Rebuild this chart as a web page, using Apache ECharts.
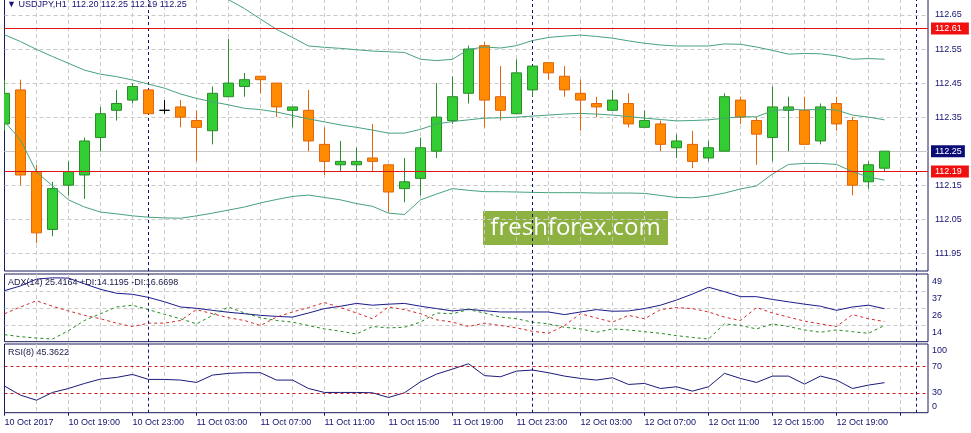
<!DOCTYPE html>
<html><head><meta charset="utf-8">
<script src="https://cdn.jsdelivr.net/npm/echarts@6.0.0/dist/echarts.min.js"></script>
<style>html,body{margin:0;padding:0;background:#fff}#c{width:971px;height:433px}</style>
</head><body><div id="c"></div>
<script>
// ---------- data (hourly bars, 10 Oct 2017 15:00 .. 12 Oct 2017 22:00) ----------
const symbol = 'USDJPY';
const timeframe = 'H1';
const timeLabels = ['10 Oct 2017','10 Oct 19:00','10 Oct 23:00','11 Oct 03:00','11 Oct 07:00','11 Oct 11:00','11 Oct 15:00','11 Oct 19:00','11 Oct 23:00','12 Oct 03:00','12 Oct 07:00','12 Oct 11:00','12 Oct 15:00','12 Oct 19:00'];
const daySeparators = [9, 33, 57];
const opens  = [112.33,112.43,112.19,112.02,112.15,112.18,112.29,112.37,112.40,112.43,112.37,112.38,112.34,112.31,112.41,112.44,112.47,112.45,112.37,112.37,112.27,112.21,112.21,112.23,112.21,112.14,112.17,112.25,112.34,112.42,112.56,112.41,112.36,112.43,112.51,112.47,112.42,112.39,112.37,112.39,112.32,112.33,112.26,112.27,112.23,112.25,112.40,112.34,112.29,112.37,112.37,112.28,112.39,112.34,112.16,112.20];
const closes = [112.42,112.18,112.01,112.14,112.19,112.28,112.36,112.39,112.44,112.36,112.37,112.35,112.32,112.42,112.45,112.46,112.46,112.38,112.38,112.28,112.22,112.22,112.22,112.22,112.13,112.16,112.26,112.35,112.41,112.55,112.40,112.37,112.48,112.50,112.48,112.43,112.40,112.38,112.40,112.33,112.34,112.27,112.28,112.22,112.26,112.41,112.35,112.30,112.38,112.38,112.27,112.38,112.33,112.15,112.21,112.25];
const lows   = [112.31,112.15,111.98,112.00,112.12,112.11,112.25,112.34,112.39,112.36,112.36,112.32,112.22,112.27,112.41,112.41,112.42,112.35,112.32,112.25,112.18,112.19,112.19,112.19,112.07,112.10,112.12,112.23,112.33,112.39,112.32,112.34,112.36,112.41,112.46,112.41,112.31,112.35,112.37,112.32,112.32,112.25,112.23,112.20,112.22,112.25,112.33,112.21,112.22,112.25,112.27,112.27,112.31,112.12,112.14,112.19];
const highs  = [112.46,112.46,112.21,112.16,112.22,112.29,112.38,112.43,112.45,112.43,112.40,112.40,112.37,112.44,112.58,112.48,112.47,112.45,112.38,112.43,112.32,112.28,112.26,112.33,112.21,112.23,112.29,112.45,112.47,112.56,112.57,112.50,112.52,112.50,112.51,112.50,112.46,112.41,112.43,112.42,112.37,112.34,112.30,112.31,112.28,112.42,112.41,112.35,112.44,112.41,112.41,112.39,112.41,112.35,112.22,112.25];
const bbUpper  = [112.847,112.861,112.909,112.908,112.909,112.890,112.881,112.872,112.858,112.838,112.816,112.783,112.750,112.722,112.695,112.669,112.638,112.608,112.584,112.559,112.555,112.552,112.548,112.544,112.542,112.540,112.520,112.516,112.520,112.549,112.556,112.553,112.560,112.575,112.584,112.588,112.591,112.587,112.582,112.574,112.567,112.562,112.559,112.559,112.559,112.565,112.564,112.556,112.546,112.535,112.537,112.536,112.530,112.520,112.522,112.520];
const bbMiddle = [112.592,112.572,112.549,112.528,112.508,112.488,112.476,112.469,112.459,112.447,112.435,112.418,112.405,112.395,112.386,112.376,112.372,112.365,112.355,112.345,112.336,112.327,112.320,112.312,112.303,112.303,112.314,112.330,112.337,112.342,112.347,112.348,112.350,112.353,112.356,112.359,112.361,112.359,112.356,112.352,112.347,112.343,112.339,112.340,112.342,112.347,112.351,112.351,112.369,112.373,112.371,112.373,112.371,112.356,112.350,112.342];
const bbLower  = [112.337,112.283,112.189,112.148,112.107,112.086,112.071,112.066,112.060,112.056,112.054,112.053,112.060,112.068,112.077,112.086,112.098,112.108,112.117,112.121,112.114,112.107,112.096,112.088,112.068,112.064,112.107,112.124,112.140,112.135,112.131,112.131,112.130,112.129,112.128,112.128,112.128,112.127,112.127,112.127,112.126,112.120,112.114,112.113,112.118,112.127,112.139,112.148,112.183,112.211,112.214,112.214,112.211,112.190,112.174,112.165];
const adx     = [37.7,40.9,45.5,46.4,46.2,42.3,38.6,35.9,35.2,33.1,30.1,26.6,25.7,24.3,23.0,22.0,20.9,20.2,19.7,22.5,25.5,27.1,29.0,27.8,28.5,29.0,27.1,25.5,23.9,25.0,24.0,23.2,23.2,23.2,23.2,21.4,23.2,24.8,23.7,23.9,25.5,27.8,31.3,35.4,40.0,37.0,33.6,33.6,31.7,30.1,28.5,27.1,24.3,26.6,27.8,25.4164];
const plusDI  = [7.8,6.4,5.5,4.8,10.5,17.4,22.0,26.6,27.8,24.8,21.6,18.6,15.1,20.9,26.6,22.5,19.3,17.4,16.3,14.0,11.7,10.1,8.2,13.3,12.4,12.8,16.3,22.5,22.0,24.8,22.5,19.7,18.6,16.3,15.1,12.8,11.7,9.4,11.7,11.0,9.8,8.7,7.1,5.9,4.8,15.1,14.0,11.7,15.1,13.3,11.0,9.4,11.0,9.8,8.7,14.1195];
const minusDI = [22.0,26.6,30.8,27.1,23.9,20.9,18.6,15.6,13.3,15.6,15.6,17.4,24.8,22.0,19.3,17.4,14.0,19.7,23.2,26.2,29.6,26.2,22.5,18.6,26.6,24.8,22.0,17.9,16.3,13.3,15.6,14.0,12.4,10.1,8.7,14.0,22.0,19.1,16.3,20.9,18.6,24.8,26.2,25.5,23.2,19.7,17.4,26.2,22.5,19.7,17.0,15.1,13.3,21.4,18.6,16.6698];
const rsi     = [40.2,26.5,18.9,30.6,36.6,44.2,50.8,53.3,57.8,50.3,50.3,49.3,45.7,56.8,59.4,60.4,60.4,49.3,49.3,36.6,30.6,30.6,30.6,30.1,23.0,30.1,46.7,58.3,65.9,74.0,56.0,54.3,62.9,64.4,60.4,55.3,51.8,49.3,52.8,42.7,44.2,36.6,39.2,32.6,39.2,59.4,51.8,45.7,55.3,55.3,43.2,55.3,49.3,36.6,41.7,45.3622];
const horizontalLevels = [112.61, 112.19];
const rsiLevels = [70, 30];
const priceTicks = { min: 111.95, step: 0.1 };

// ---------- styling / layout ----------
const FONT = '"Liberation Sans", Arial, sans-serif';
const NAVY = '#12126e';
const FRAME = '#1a1a5a';
const GRIDC = '#c9c9c9';
const GRID_DASH = [4, 3];
const SEP = '#10106a';
const RED = '#e01414';
const BB = '#46a27c';
const LEFT = 4.5, RIGHT = 43;
const X_MAX = (971 - RIGHT - LEFT) / 16;
const MAIN_TOP = -1, MAIN_H = 272;
const P_MAX = 112.697, P_MIN = 111.898;

const n = closes.length;
const candles = closes.map((c, i) => [i, opens[i], c, lows[i], highs[i]]);
const pts = arr => arr.map((v, i) => [i, v]);
const last = n - 1;

// fresh objects for every series (markLine data must not be shared between series)
const sepLines = () => daySeparators.map(x => ({ xAxis: x, lineStyle: { color: SEP, type: [3, 3], width: 1 }, label: { show: false } }));
const gridDash = { color: GRIDC, type: GRID_DASH, width: 1 };
const baseLabel = { fontFamily: FONT, fontSize: 9, color: NAVY };
const boxLabel = (bg, pad) => ({ show: true, position: 'end', distance: 3, formatter: p => p.value.toFixed(2), color: '#fff', backgroundColor: bg, padding: pad, fontSize: 9, fontFamily: FONT, lineHeight: 10 });

function xGridAxis(gi) {
  return { type: 'value', gridIndex: gi, min: 0, max: X_MAX, interval: 2,
    axisLine: { show: false }, axisTick: { show: false }, axisLabel: { show: false },
    splitLine: { show: true, showMinLine: false, showMaxLine: false, lineStyle: gridDash } };
}

const option = {
  animation: false,
  backgroundColor: '#ffffff',
  textStyle: { fontFamily: FONT },
  title: [
    { text: '\u25BC ' + symbol + ',' + timeframe + '  ' + [opens[last], highs[last], lows[last], closes[last]].map(v => v.toFixed(2)).join(' '),
      left: 7, top: 0, padding: 0, textStyle: { ...baseLabel, fontWeight: 'normal' } },
    { text: 'ADX(14) ' + adx[last].toFixed(4) + ' +DI:' + plusDI[last].toFixed(4) + ' -DI:' + minusDI[last].toFixed(4),
      left: 8, top: 278, padding: 0, textStyle: { ...baseLabel, fontWeight: 'normal', color: '#202050' } },
    { text: 'RSI(8) ' + rsi[last].toFixed(4),
      left: 8, top: 348.5, padding: 0, textStyle: { ...baseLabel, fontWeight: 'normal', color: '#202050' } }
  ],
  grid: [
    { left: LEFT, right: RIGHT, top: MAIN_TOP, height: MAIN_H, show: true, borderColor: FRAME, borderWidth: 1, outerBoundsMode: 'none', containLabel: false },
    { left: LEFT, right: RIGHT, top: MAIN_TOP, height: (P_MAX - priceTicks.min) / (P_MAX - P_MIN) * MAIN_H, show: false, outerBoundsMode: 'none', containLabel: false },
    { left: LEFT, right: RIGHT, top: 274, height: 67.7, show: true, borderColor: FRAME, borderWidth: 1, outerBoundsMode: 'none', containLabel: false },
    { left: LEFT, right: RIGHT, top: 344, height: 68.7, show: true, borderColor: FRAME, borderWidth: 1, outerBoundsMode: 'none', containLabel: false }
  ],
  xAxis: [
    xGridAxis(0),
    { type: 'value', gridIndex: 1, min: 0, max: X_MAX, show: false },
    xGridAxis(2),
    { type: 'value', gridIndex: 3, min: 0, max: X_MAX, interval: 4,
      axisLine: { show: false }, axisTick: { show: true, length: 3, lineStyle: { color: NAVY } },
      splitLine: { show: false },
      axisLabel: { ...baseLabel, align: 'left', margin: 5, hideOverlap: false, showMaxLabel: false,
        formatter: v => { const i = Math.round(v); if (Math.abs(v - i) > 1e-6 || i % 4) return ''; return timeLabels[i / 4] || ''; } } },
    xGridAxis(3)
  ],
  yAxis: [
    { type: 'value', gridIndex: 0, min: P_MIN, max: P_MAX, show: false },
    { type: 'value', gridIndex: 1, position: 'right', min: priceTicks.min, max: P_MAX, interval: priceTicks.step,
      axisLine: { show: false }, axisTick: { show: false },
      splitLine: { show: true, showMinLine: true, showMaxLine: false, lineStyle: gridDash },
      axisLabel: { ...baseLabel, margin: 7, showMaxLabel: false, hideOverlap: false, formatter: v => v.toFixed(2) } },
    { type: 'value', gridIndex: 2, position: 'right', min: 3, max: 49, interval: 11.5,
      axisLine: { show: false }, axisTick: { show: false },
      splitLine: { show: true, showMinLine: false, showMaxLine: false, lineStyle: gridDash },
      axisLabel: { ...baseLabel, margin: 4, verticalAlign: 'top', padding: [3, 0, 0, 0], showMinLabel: false, hideOverlap: false,
        formatter: v => String(Math.floor(v)) } },
    { type: 'value', gridIndex: 3, position: 'right', min: 0, max: 103.8, interval: 10,
      axisLine: { show: false }, axisTick: { show: false }, splitLine: { show: false },
      axisLabel: { ...baseLabel, margin: 4, showMaxLabel: false, hideOverlap: false,
        formatter: v => v === 100 ? '{t|100}' : v === 0 ? '{b|0}' : (v === 30 || v === 70) ? String(v) : '',
        rich: { t: { ...baseLabel, padding: [9, 0, 0, 0] }, b: { ...baseLabel, padding: [0, 0, 12, 0] } } } }
  ],
  graphic: [
    { type: 'group', left: 483, top: 211, z: 1, silent: true,
      children: [
        { type: 'rect', shape: { x: 0, y: 0, width: 185, height: 34 }, style: { fill: '#8db241' } },
        { type: 'text', x: 92.5, y: 17, style: { text: 'freshforex.com', fill: '#ffffff', font: '24px "Open Sans", sans-serif', align: 'center', verticalAlign: 'middle' } }
      ] },
    // left margin mask: hides the part of the first bar that falls outside the chart frame
    { type: 'rect', left: 0, top: 0, z: 100, silent: true, shape: { x: 0, y: 0, width: 4, height: 413 }, style: { fill: '#ffffff' } }
  ],
  series: [
    { name: 'Bands upper', type: 'line', xAxisIndex: 0, yAxisIndex: 0, data: pts(bbUpper), symbol: 'none', silent: true, lineStyle: { color: BB, width: 1 },
      markLine: { silent: true, symbol: ['none', 'none'], z: 6,
        data: horizontalLevels.map(v => ({ yAxis: v, lineStyle: { color: RED, type: 'solid', width: 1 }, label: boxLabel('#f01010', [1, 7, 1, 4]) })) } },
    { name: 'Bands middle', type: 'line', xAxisIndex: 0, yAxisIndex: 0, data: pts(bbMiddle), symbol: 'none', silent: true, lineStyle: { color: BB, width: 1 },
      markLine: { silent: true, symbol: ['none', 'none'], z: 2,
        data: sepLines().concat([{ yAxis: closes[last], lineStyle: { color: '#c8c8c8', type: 'solid', width: 1 }, label: boxLabel('#0c0c78', [1, 3, 1, 4]) }]) } },
    { name: 'Bands lower', type: 'line', xAxisIndex: 0, yAxisIndex: 0, data: pts(bbLower), symbol: 'none', silent: true, lineStyle: { color: BB, width: 1 } },
    { name: symbol, type: 'candlestick', xAxisIndex: 0, yAxisIndex: 0, data: candles, barWidth: 10, silent: true,
      itemStyle: { color: '#33cc33', color0: '#ff8c00', borderColor: '#2a8c2a', borderColor0: '#e2640c', borderColorDoji: '#000000', borderWidth: 1 } },
    { name: 'ADX', type: 'line', xAxisIndex: 2, yAxisIndex: 2, data: pts(adx), symbol: 'none', silent: true, lineStyle: { color: '#1a1a8c', width: 1 },
      markLine: { silent: true, symbol: ['none', 'none'], data: sepLines() } },
    { name: '+DI', type: 'line', xAxisIndex: 2, yAxisIndex: 2, data: pts(plusDI), symbol: 'none', silent: true, lineStyle: { color: '#1f8a1f', width: 1, type: [3, 3] } },
    { name: '-DI', type: 'line', xAxisIndex: 2, yAxisIndex: 2, data: pts(minusDI), symbol: 'none', silent: true, lineStyle: { color: '#d42a2a', width: 1, type: [3, 3] } },
    { name: 'RSI', type: 'line', xAxisIndex: 3, yAxisIndex: 3, data: pts(rsi), symbol: 'none', silent: true, lineStyle: { color: '#1a1a7a', width: 1 },
      markLine: { silent: true, symbol: ['none', 'none'],
        data: sepLines().concat(rsiLevels.map(v => ({ yAxis: v, lineStyle: { color: '#c42020', type: [3, 3], width: 1 }, label: { show: false } }))) } }
  ]
};
const chart = echarts.init(document.getElementById('c'), null, { renderer: 'canvas' });
chart.setOption(option);
</script>
</body></html>
